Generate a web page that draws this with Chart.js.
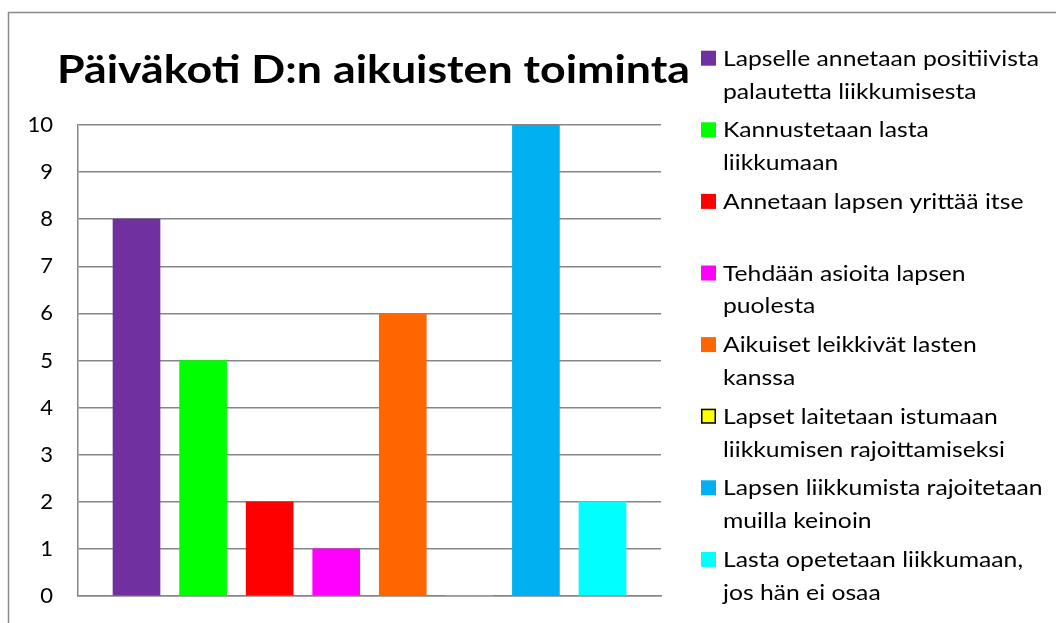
<!DOCTYPE html>
<html><head><meta charset="utf-8">
<script src="https://cdn.jsdelivr.net/npm/chart.js@4/dist/chart.umd.min.js"></script>
<style>html,body{margin:0;padding:0;background:#fff;overflow:hidden}#wrap{position:relative;width:1056px;height:623px}</style>
</head><body><div id="wrap"><canvas id="c" width="1056" height="623"></canvas></div>
<script>
const chartTitle = "Päiväkoti D:n aikuisten toiminta";
const categories = [
  ["Lapselle annetaan positiivista", "palautetta liikkumisesta"],
  ["Kannustetaan lasta", "liikkumaan"],
  ["Annetaan lapsen yrittää itse"],
  ["Tehdään asioita lapsen", "puolesta"],
  ["Aikuiset leikkivät lasten", "kanssa"],
  ["Lapset laitetaan istumaan", "liikkumisen rajoittamiseksi"],
  ["Lapsen liikkumista rajoitetaan", "muilla keinoin"],
  ["Lasta opetetaan liikkumaan,", "jos hän ei osaa"]
];
const values = [8, 5, 2, 1, 6, 0, 10, 2];
const colors = ["#7030A0", "#00FF00", "#FF0000", "#FF00FF", "#FF6600", "#FFFF00", "#00B0F0", "#00FFFF"];
const yMin = 0, yMax = 10, yStep = 1;

const FONT = "Lato, 'Open Sans', sans-serif";

function drawScaledText(ctx, text, x, y, font, sx, align) {
  ctx.save();
  ctx.font = font;
  ctx.textBaseline = "alphabetic";
  ctx.textAlign = align || "left";
  ctx.translate(x, y);
  ctx.scale(sx, 1);
  ctx.fillText(text, 0, 0);
  ctx.restore();
}

const decor = {
  id: "decor",
  beforeDraw(chart) {
    const ctx = chart.ctx;
    ctx.save();
    ctx.fillStyle = "#fff";
    ctx.fillRect(0, 0, chart.width, chart.height);
    ctx.strokeStyle = "#8a8a8a";
    ctx.lineWidth = 1.5;
    ctx.strokeRect(8.5, 12.5, 3000, 3000);
    ctx.restore();
  },
  afterDraw(chart) {
    const ctx = chart.ctx;
    ctx.save();
    ctx.fillStyle = "#000";
    const tFont = "bold 39px " + FONT;
    ctx.font = tFont;
    const tw = ctx.measureText(chartTitle).width;
    drawScaledText(ctx, chartTitle, 57, 83, tFont, 633 / tw, "left");
    const lFont = "21px " + FONT;
    ctx.font = lFont;
    const lw = ctx.measureText(categories[0][0]).width;
    const lsx = 316 / lw;
    categories.forEach((lines, i) => {
      const base = 65.7 + i * 71.6;
      ctx.fillStyle = colors[i];
      ctx.fillRect(701, base - 15, 15, 15);
      if (colors[i] === "#FFFF00") {
        ctx.strokeStyle = "#000";
        ctx.lineWidth = 1.5;
        ctx.strokeRect(701.75, base - 14.25, 13.5, 13.5);
      }
      ctx.fillStyle = "#000";
      lines.forEach((ln, j) => {
        drawScaledText(ctx, ln, 723, base + j * 32.8, lFont, lsx, "left");
      });
    });
    ctx.restore();
  }
};

new Chart(document.getElementById("c"), {
  type: "bar",
  data: {
    datasets: [{
      data: values.map((v, i) => ({ x: i, y: v })),
      backgroundColor: colors,
      borderWidth: 0,
      barThickness: 47
    }]
  },
  options: {
    responsive: false,
    animation: false,
    devicePixelRatio: 1,
    layout: { padding: { left: 0, top: 125, right: 395, bottom: 27 } },
    plugins: { legend: { display: false }, tooltip: { enabled: false }, title: { display: false } },
    scales: {
      x: {
        type: "linear",
        offset: false,
        min: -0.879,
        max: 7.879,
        ticks: { display: false },
        grid: { display: false, drawTicks: false },
        border: { display: true, color: "#868686", width: 1.5 },
        afterFit(s) { s.height = 0; }
      },
      y: {
        min: yMin,
        max: yMax,
        ticks: { stepSize: yStep, color: "#000", font: { family: FONT, size: 22 }, padding: 0 },
        grid: { color: "#868686", lineWidth: 1.5, drawTicks: true, tickLength: 25, tickColor: "rgba(0,0,0,0)" },
        border: { display: true, color: "#868686", width: 1.5 },
        afterFit(s) { s.width = 78; }
      }
    }
  },
  plugins: [decor]
});
</script>
</body></html>
